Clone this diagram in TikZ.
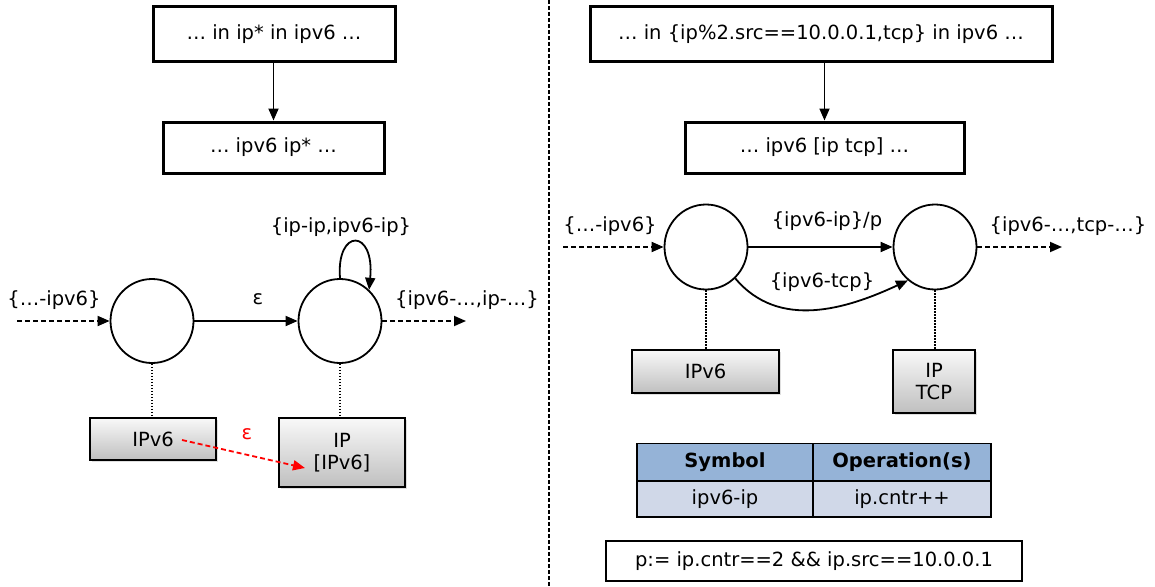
\documentclass[tikz,border=0pt]{standalone}
\usepackage{fontspec}
\setmainfont{DejaVu Sans}
\usetikzlibrary{arrows.meta,shapes.geometric,shadows}
\definecolor{hdrblue}{RGB}{149,179,215}
\definecolor{rowblue}{RGB}{208,216,232}
\begin{document}
\begin{tikzpicture}[x=1pt,y=-1pt,
  font=\fontsize{19.5}{23}\selectfont,
  tip/.style={-{Triangle[length=12pt,width=10pt]}},
  topbox/.style={draw,line width=3pt,inner sep=0pt,fill=white},
  grbox/.style={draw,line width=2pt,inner sep=0pt,align=center,top color=gray!5,bottom color=gray!50,
    drop shadow={opacity=0.25,shadow xshift=1.5pt,shadow yshift=-1.5pt}},
  state/.style={draw,ellipse,line width=1.8pt,inner sep=0pt,fill=white},
  edge/.style={tip,line width=1.8pt},
  dedge/.style={tip,line width=1.8pt,dash pattern=on 5pt off 3pt},
  link/.style={line width=1.6pt,dash pattern=on 1.5pt off 1.5pt},
  cell/.style={draw,line width=1.6pt,inner sep=0pt,minimum height=37pt}]
\useasboundingbox (0,0) rectangle (1155,586);

% divider
\coordinate (dv1) at (549,0);
\coordinate (dv2) at (549,586);
\draw[line width=1.6pt,dash pattern=on 4pt off 2pt] (dv1) -- (dv2);

% ---------- left ----------
\node[topbox,minimum width=242pt,minimum height=54pt] (b1) at (274,34) {… in ip* in ipv6 …};
\node[topbox,minimum width=221pt,minimum height=51pt] (b2) at (273.5,147.5) {… ipv6 ip* …};
\draw[edge] (b2.north |- b1.south) -- (b2.north);

\node[state,minimum width=83pt,minimum height=84pt] (c1) at (152,321) {};
\node[state,minimum width=83pt,minimum height=84pt] (c2) at (340,321) {};
\coordinate (in1) at (17,321);
\coordinate (out1) at (466,321);
\draw[dedge] (in1) -- (c1);
\draw[edge] (c1) -- (c2);
\draw[dedge] (c2) -- (out1);
\draw[edge] (c2.north) .. controls (336,228) and (375,228) .. (c2.47);

\node (lin1) at (54,300) {\{…-ipv6\}};
\node (leps) at (258,299) {ε};
\node (lout1) at (467,300) {\{ipv6-…,ip-…\}};
\node (lloop) at (341,227) {\{ip-ip,ipv6-ip\}};

\node[grbox,minimum width=126pt,minimum height=42pt] (g1) at (153,439) {IPv6};
\node[grbox,minimum width=126pt,minimum height=69pt] (g2) at (342,452.5) {IP\\[-1pt][IPv6]};
\draw[link] (c1.south) -- (c1.south |- g1.north);
\draw[link] (c2.south) -- (c2.south |- g2.north);
\coordinate (r1) at (182,440);
\coordinate (r2) at (305,468);
\draw[tip,red,line width=1.8pt,dash pattern=on 5pt off 3pt] (r1) -- (r2);
\node[red] (reps) at (247,434) {ε};

% ---------- right ----------
\node[topbox,minimum width=462pt,minimum height=54pt] (b3) at (821,34) {… in \{ip\%2.src==10.0.0.1,tcp\} in ipv6 …};
\node[topbox,minimum width=279pt,minimum height=51pt] (b4) at (824.5,147.5) {… ipv6 [ip tcp] …};
\draw[edge] (b4.north |- b3.south) -- (b4.north);

\node[state,minimum width=83pt,minimum height=85pt] (cA) at (706,247) {};
\node[state,minimum width=83pt,minimum height=85pt] (cB) at (935,247) {};
\coordinate (in2) at (563,247);
\coordinate (out2) at (1062,247);
\draw[dedge] (in2) -- (cA);
\draw[edge] (cA) -- (cB);
\draw[edge] (cA.-47) to[out=-50,in=205] (cB.-129);
\draw[dedge] (cB) -- (out2);

\node (lin2) at (610,226) {\{…-ipv6\}};
\node (lab1) at (827,221) {\{ipv6-ip\}/p};
\node (lab2) at (822,282) {\{ipv6-tcp\}};
\node (lout2) at (1068,226) {\{ipv6-…,tcp-…\}};

\node[grbox,minimum width=147pt,minimum height=43pt] (g3) at (705.5,371.5) {IPv6};
\node[grbox,minimum width=82pt,minimum height=63pt] (g4) at (934,381.5) {IP\\[-1pt]TCP};
\draw[link] (cA.south) -- (cA.south |- g3.north);
\draw[link] (cB.south) -- (cB.south |- g4.north);

% table
\node[cell,fill=hdrblue,minimum width=176pt] (t11) at (725,462) {\textbf{Symbol}};
\node[cell,fill=hdrblue,minimum width=178pt] (t12) at (902,462) {\textbf{Operation(s)}};
\node[cell,fill=rowblue,minimum width=176pt,minimum height=36pt] (t21) at (725,499) {ipv6-ip};
\node[cell,fill=rowblue,minimum width=178pt,minimum height=36pt] (t22) at (902,499) {ip.cntr++};

\node[draw,line width=2pt,inner sep=0pt,minimum width=416pt,minimum height=40pt] (pb) at (814,561) {p:= ip.cntr==2 \&\& ip.src==10.0.0.1};
\end{tikzpicture}
\end{document}
